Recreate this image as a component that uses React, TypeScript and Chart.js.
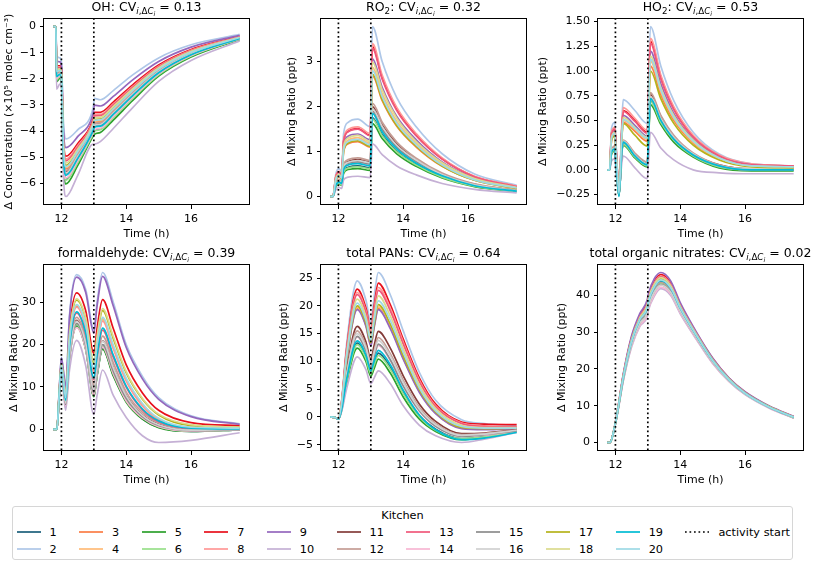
import React, { useEffect, useRef } from "react";
import { Chart, registerables } from "chart.js";

Chart.register(...registerables);

// ---------------- data ----------------
const KITCHENS = ["1","2","3","4","5","6","7","8","9","10","11","12","13","14","15","16","17","18","19","20"];
const KITCHEN_COLORS = [
  "#1b5f7a", "#aec7e8", "#fb7d45", "#ffbb78", "#2ca02c", "#98df8a", "#e8101c", "#ff9896", "#9467bd", "#c5b0d5",
  "#843c39", "#c49c94", "#f0587a", "#f7b6d2", "#8c8c8c", "#d0d0d0", "#b5b31a", "#dbdb8d", "#00bcd4", "#9edae5",
];
const ACTIVITY_START_TIMES = [12, 13];
const X_TICKS = [12, 14, 16];

// OH (x10^5 molec cm^-3)
const OH_TIME = [11.75, 11.83, 11.85, 11.95, 12.0, 12.06, 12.14, 12.5, 12.98, 13.02, 13.2, 13.6, 14.2, 15.0, 16.0, 17.5];
const OH_VALUES = [
  [0,0,-2.01,-1.9,-2.02,-5.0,-5.84,-5.18,-4.08,-3.98,-3.92,-3.47,-2.73,-1.83,-1.12,-0.48],
  [0,0,-1.1,-1.2,-1.35,-3.6,-4.3,-3.95,-3.1,-2.75,-2.8,-2.45,-1.85,-1.2,-0.7,-0.3],
  [0,0,-1.78,-1.72,-1.84,-4.64,-5.44,-4.86,-3.83,-3.66,-3.63,-3.2,-2.5,-1.67,-1.01,-0.43],
  [0,0,-1.75,-1.7,-1.83,-4.6,-5.4,-4.83,-3.8,-3.63,-3.6,-3.18,-2.48,-1.65,-1.0,-0.43],
  [0,0,-2.11,-1.98,-2.09,-5.16,-6.02,-5.32,-4.19,-4.12,-4.05,-3.58,-2.83,-1.9,-1.17,-0.5],
  [0,0,-2.04,-1.92,-2.03,-5.04,-5.88,-5.21,-4.11,-4.01,-3.95,-3.49,-2.75,-1.85,-1.13,-0.48],
  [0,0,-1.49,-1.5,-1.64,-4.2,-4.96,-4.48,-3.52,-3.28,-3.28,-2.89,-2.23,-1.47,-0.88,-0.38],
  [0,0,-1.56,-1.55,-1.68,-4.3,-5.07,-4.56,-3.59,-3.36,-3.36,-2.96,-2.29,-1.52,-0.91,-0.39],
  [0,0,-1.3,-1.35,-1.49,-3.9,-4.63,-4.21,-3.31,-3.01,-3.04,-2.67,-2.04,-1.34,-0.79,-0.34],
  [0,0,-2.4,-2.2,-2.3,-5.6,-6.5,-5.7,-4.5,-4.5,-4.4,-3.9,-3.1,-2.1,-1.3,-0.55],
  [0,0,-1.84,-1.77,-1.89,-4.74,-5.55,-4.95,-3.9,-3.75,-3.71,-3.28,-2.56,-1.71,-1.04,-0.44],
  [0,0,-1.82,-1.75,-1.87,-4.7,-5.51,-4.91,-3.87,-3.71,-3.68,-3.25,-2.54,-1.7,-1.03,-0.44],
  [0,0,-1.59,-1.58,-1.71,-4.36,-5.14,-4.62,-3.63,-3.42,-3.41,-3.0,-2.33,-1.54,-0.93,-0.4],
  [0,0,-1.98,-1.88,-2.0,-4.96,-5.8,-5.14,-4.05,-3.94,-3.89,-3.44,-2.7,-1.81,-1.11,-0.47],
  [0,0,-1.89,-1.81,-1.93,-4.82,-5.64,-5.02,-3.95,-3.82,-3.78,-3.33,-2.61,-1.75,-1.07,-0.45],
  [0,0,-1.87,-1.79,-1.91,-4.78,-5.6,-4.98,-3.93,-3.78,-3.74,-3.31,-2.59,-1.73,-1.05,-0.45],
  [0,0,-1.7,-1.66,-1.79,-4.52,-5.31,-4.76,-3.74,-3.56,-3.54,-3.12,-2.43,-1.61,-0.98,-0.42],
  [0,0,-1.65,-1.62,-1.75,-4.44,-5.22,-4.69,-3.69,-3.49,-3.47,-3.06,-2.38,-1.58,-0.95,-0.41],
  [0,0,-1.92,-1.83,-1.95,-4.86,-5.69,-5.05,-3.98,-3.85,-3.81,-3.36,-2.64,-1.77,-1.08,-0.46],
  [0,0,-1.72,-1.68,-1.81,-4.56,-5.36,-4.79,-3.77,-3.59,-3.57,-3.15,-2.45,-1.63,-0.99,-0.42],
];
const OH_TICKS = [-6, -5, -4, -3, -2, -1, 0];

// RO2 (ppt)
const RO2_TIME = [11.75, 11.83, 11.92, 12.02, 12.1, 12.16, 12.3, 12.6, 12.98, 13.05, 13.35, 13.8, 14.4, 15.2, 16.2, 17.5];
const RO2_VALUES = [
  [0,0,0.24,0.3,0.27,0.56,0.65,0.68,0.64,1.75,1.38,1.01,0.71,0.44,0.23,0.12],
  [0,0,0.5,0.62,0.55,1.4,1.65,1.72,1.55,3.78,3.0,2.2,1.55,0.95,0.5,0.25],
  [0,0,0.36,0.44,0.39,0.99,1.17,1.22,1.1,2.68,2.13,1.56,1.1,0.67,0.36,0.18],
  [0,0,0.38,0.47,0.42,1.06,1.25,1.31,1.18,2.87,2.28,1.67,1.18,0.72,0.38,0.19],
  [0,0,0.22,0.28,0.25,0.51,0.6,0.62,0.58,1.62,1.29,0.95,0.67,0.41,0.22,0.11],
  [0,0,0.23,0.29,0.26,0.54,0.63,0.66,0.62,1.72,1.35,0.99,0.7,0.43,0.23,0.11],
  [0,0,0.44,0.55,0.48,1.23,1.45,1.51,1.36,3.33,2.64,1.94,1.36,0.84,0.44,0.22],
  [0,0,0.45,0.56,0.5,1.26,1.49,1.55,1.4,3.4,2.7,1.98,1.4,0.86,0.45,0.23],
  [0,0,0.4,0.5,0.45,1.13,1.34,1.39,1.26,3.06,2.43,1.78,1.26,0.77,0.41,0.2],
  [0,0,0.15,0.2,0.18,0.37,0.43,0.45,0.42,1.17,0.93,0.68,0.48,0.29,0.16,0.08],
  [0,0,0.29,0.36,0.33,0.67,0.78,0.82,0.77,2.0,1.59,1.17,0.82,0.5,0.27,0.13],
  [0,0,0.3,0.38,0.34,0.7,0.82,0.86,0.8,2.07,1.65,1.21,0.85,0.52,0.28,0.14],
  [0,0,0.43,0.54,0.48,1.22,1.44,1.5,1.35,3.29,2.61,1.91,1.35,0.83,0.44,0.22],
  [0,0,0.26,0.33,0.3,0.6,0.71,0.74,0.7,1.86,1.47,1.08,0.76,0.47,0.25,0.12],
  [0,0,0.27,0.34,0.31,0.63,0.74,0.77,0.72,1.9,1.5,1.1,0.78,0.48,0.25,0.13],
  [0,0,0.28,0.35,0.32,0.65,0.76,0.8,0.75,1.95,1.56,1.14,0.81,0.49,0.26,0.13],
  [0,0,0.36,0.45,0.4,1.01,1.19,1.24,1.12,2.72,2.16,1.58,1.12,0.68,0.36,0.18],
  [0,0,0.4,0.49,0.43,1.11,1.3,1.36,1.22,2.99,2.37,1.74,1.22,0.75,0.4,0.2],
  [0,0,0.25,0.32,0.29,0.6,0.7,0.73,0.68,1.85,1.44,1.06,0.74,0.46,0.24,0.12],
  [0,0,0.37,0.46,0.41,1.04,1.22,1.27,1.15,2.8,2.22,1.63,1.15,0.7,0.37,0.19],
];
const RO2_TICKS = [0, 1, 2, 3];

// HO2 (ppt)
const HO2_TIME = [11.75, 11.82, 11.88, 11.98, 12.03, 12.11, 12.2, 12.24, 12.6, 12.98, 13.08, 13.4, 13.8, 14.4, 15.2, 16.2, 17.5];
const HO2_VALUES = [
  [0,0,0.17,0.2,-0.01,-0.26,0.19,0.27,0.13,0.04,0.7,0.49,0.3,0.14,0.03,0,0],
  [0,0,0.42,0.48,0.2,-0.22,0.5,0.71,0.6,0.47,1.45,1.05,0.7,0.38,0.16,0.06,0.04],
  [0,0,0.3,0.35,0.12,-0.25,0.34,0.48,0.39,0.29,1.05,0.76,0.5,0.27,0.11,0.04,0.03],
  [0,0,0.31,0.36,0.13,-0.24,0.35,0.5,0.41,0.31,1.1,0.79,0.52,0.28,0.11,0.04,0.03],
  [0,0,0.16,0.19,-0.02,-0.26,0.18,0.25,0.12,0.03,0.66,0.46,0.28,0.13,0.02,-0.01,-0.01],
  [0,0,0.17,0.2,-0.01,-0.26,0.19,0.26,0.13,0.04,0.69,0.48,0.3,0.14,0.03,0,0],
  [0,0,0.37,0.42,0.16,-0.23,0.43,0.6,0.5,0.38,1.3,0.94,0.62,0.34,0.14,0.05,0.04],
  [0,0,0.38,0.43,0.17,-0.23,0.45,0.63,0.52,0.4,1.33,0.96,0.64,0.35,0.15,0.06,0.04],
  [0,0,0.34,0.39,0.14,-0.24,0.39,0.55,0.45,0.34,1.2,0.87,0.57,0.31,0.13,0.05,0.03],
  [0,0,0.09,0.11,-0.06,-0.22,0.08,0.14,0.02,-0.09,0.38,0.22,0.1,0,-0.03,-0.04,-0.04],
  [0,0,0.2,0.23,0.02,-0.25,0.21,0.29,0.16,0.07,0.76,0.54,0.34,0.16,0.05,0.01,0.01],
  [0,0,0.2,0.24,0.02,-0.25,0.22,0.3,0.17,0.08,0.78,0.55,0.35,0.17,0.05,0.01,0.01],
  [0,0,0.36,0.41,0.16,-0.23,0.42,0.59,0.49,0.37,1.28,0.92,0.61,0.33,0.14,0.05,0.04],
  [0,0,0.18,0.21,0,-0.26,0.2,0.28,0.14,0.05,0.72,0.5,0.31,0.15,0.04,0,0],
  [0,0,0.19,0.22,0.01,-0.26,0.2,0.28,0.15,0.06,0.73,0.51,0.32,0.15,0.04,0,0],
  [0,0,0.19,0.22,0.01,-0.25,0.21,0.29,0.15,0.06,0.74,0.52,0.33,0.16,0.04,0.01,0.01],
  [0,0,0.3,0.34,0.11,-0.25,0.33,0.47,0.35,0.24,1.0,0.72,0.47,0.25,0.1,0.03,0.02],
  [0,0,0.33,0.38,0.14,-0.24,0.37,0.53,0.43,0.33,1.15,0.83,0.55,0.3,0.12,0.04,0.03],
  [0,0,0.18,0.21,0,-0.27,0.2,0.28,0.14,0.05,0.72,0.5,0.31,0.15,0.04,0,0],
  [0,0,0.32,0.37,0.13,-0.24,0.36,0.51,0.42,0.32,1.12,0.81,0.53,0.29,0.12,0.04,0.03],
];
const HO2_TICKS = [-0.25, 0, 0.25, 0.5, 0.75, 1.0, 1.25, 1.5];

// formaldehyde (ppt)
const HCHO_TIME = [11.75, 11.86, 11.93, 12.0, 12.06, 12.13, 12.25, 12.47, 12.75, 13.0, 13.1, 13.27, 13.6, 14.0, 14.5, 15.0, 16.0, 17.5];
const HCHO_VALUES = [
  [0,0,7.4,13.9,10.1,5.7,16.9,24.4,19,7.9,12.8,19.1,12.8,6.6,2.5,0.5,-0.5,-0.1],
  [0,0,9,17,14,10,27,36.5,33,23.5,30,37,30,20,12.5,7.5,3.2,1.3],
  [0,0,8,15.1,11.6,7.4,20.8,29.1,24.4,13.9,19.4,26,19.4,11.7,5.8,2.4,0.4,0.3],
  [0,0,8,15.1,11.6,7.4,20.7,29.3,24.3,13.8,19.3,25.9,19.3,11.6,5.7,2.3,0.4,0.3],
  [0,0,7.4,13.8,10,5.6,16.7,24.2,18.8,7.7,12.6,18.9,12.6,6.4,2.4,0.4,-0.5,-0.1],
  [0,0,7.5,14,10.2,5.8,17.1,24.7,19.3,8.3,13.3,19.5,13.3,6.9,2.8,0.7,-0.4,-0.1],
  [0,0,8.4,15.9,12.6,8.5,23.4,32.2,28,17.9,23.8,30.6,23.8,15.2,8.6,4.5,1.6,0.9],
  [0,0,8,15,11.5,7.3,20.5,28.8,24,13.5,19,25.5,19,11.4,5.5,2.2,0.3,0.3],
  [0,0,8.9,16.8,13.8,9.8,26.5,35.9,32.3,22.7,29.1,36.1,29.1,19.3,11.9,7.1,3.0,1.2],
  [0,0,7,13,9,4.5,14,21,15,3.5,8,14,8,2.8,-1.5,-3.1,-2.6,-0.8],
  [0,0,7.6,14.2,10.5,6.2,17.9,25.7,20.4,9.5,14.6,20.9,14.6,8,3.4,1.2,-0.1,0],
  [0,0,7.7,14.4,10.8,6.4,18.6,26.4,21.3,10.5,15.7,22,15.7,8.8,4,1.6,0.1,0.1],
  [0,0,7.8,14.6,11.1,6.8,19.3,27.4,22.4,11.7,17,23.4,17,9.9,4.6,1.8,0.2,0.1],
  [0,0,7.4,13.9,10.1,5.6,16.8,24,18.9,8,13,19.4,13.1,6.7,2.7,0.6,-0.4,-0.1],
  [0,0,7.5,14,10.3,5.9,17.4,25,19.7,8.7,13.7,20,13.7,7.3,3,0.9,-0.3,-0.1],
  [0,0,7.6,14.2,10.5,6.2,17.8,25.5,20.3,9.4,14.5,20.8,14.5,7.9,3.3,1.1,-0.2,0],
  [0,0,8.2,15.4,12,7.9,21.9,30.5,26,15.7,21.4,28,21.4,13.3,7.1,3.4,0.9,0.5],
  [0,0,8.3,15.5,12.2,8,22.2,30.8,26.3,16.1,21.9,28.5,21.9,13.6,7.3,3.6,1.1,0.5],
  [0,0,7.9,14.7,11.2,6.9,19.6,27.7,22.7,12.1,17.5,23.9,17.5,10.2,4.8,2.0,0.3,0.1],
  [0,0,8.1,15.2,11.7,7.5,21,29.4,24.7,14.3,19.9,26.4,19.9,12.1,6.1,2.6,0.5,0.3],
];
const HCHO_TICKS = [0, 10, 20, 30];

// total PANs (ppt)
const PAN_TIME = [11.75, 11.9, 12.0, 12.1, 12.25, 12.58, 12.85, 13.0, 13.1, 13.23, 13.6, 14.0, 14.5, 15.0, 15.8, 16.5, 17.5];
const PAN_VALUES = [
  [0,-0.1,-0.4,1.4,6.4,13.3,10.8,8,9.6,11.5,8.9,4.4,0.2,-2.2,-3.9,-3.5,-2.6],
  [0,-0.1,-0.3,3,13,24.5,21,17,21.5,26,22,15.5,8,3,-0.5,-1.2,-1.6],
  [0,-0.1,-0.3,2.3,10.1,19.6,16.5,13,16.3,19.6,16.2,10.6,4.6,0.7,-2,-2.2,-2],
  [0,-0.1,-0.3,2.3,10.2,19.7,16.6,13.2,16.4,19.8,16.4,10.8,4.7,0.8,-1.9,-2.2,-2],
  [0,-0.1,-0.4,1.2,6,12.4,10,7.3,8.7,10.4,7.9,3.6,-0.4,-2.6,-4.1,-3.7,-2.7],
  [0,-0.1,-0.4,1.3,6.3,13,10.5,7.8,9.3,11.1,8.6,4.2,0,-2.4,-3.9,-3.6,-2.6],
  [0,-0.1,-0.3,2.8,12.1,23,19.6,15.8,19.9,24.1,20.2,14,7,2.3,-0.9,-1.3,-1.4],
  [0,-0.1,-0.3,2.7,11.8,22.4,19.1,15.4,19.3,23.3,19.6,13.5,6.6,2.0,-1.1,-1.6,-1.8],
  [0,-0.1,-0.3,2.2,10,19.3,16.3,12.8,16,19.3,15.9,10.4,4.4,0.6,-2.1,-2.3,-2.1],
  [0,-0.1,-0.4,1,5,10.8,8.5,6,7,8.3,6,2,-1.5,-3.4,-4.6,-4.0,-2.8],
  [0,-0.1,-0.4,1.8,8.2,16.3,13.5,10.4,12.8,15.4,12.4,7.4,2.3,-0.8,-3,-2.9,-2.3],
  [0,-0.1,-0.4,1.7,7.7,15.5,12.8,9.7,11.9,14.3,11.4,6.6,1.7,-1.2,-3.2,-3.0,-2.4],
  [0,-0.1,-0.3,2.6,11.6,22,18.8,15,18.9,22.8,19.1,13.1,6.3,1.8,-1.2,-1.7,-1.8],
  [0,-0.1,-0.4,1.5,7.1,14.4,11.8,8.9,10.8,12.9,10.2,5.5,1,-1.7,-3.5,-3.3,-2.5],
  [0,-0.1,-0.4,1.5,7.2,14.5,11.9,9,10.9,13.1,10.3,5.6,1.1,-1.7,-3.5,-3.2,-2.5],
  [0,-0.1,-0.4,1.6,7.5,15,12.4,9.4,11.5,13.8,11,6.2,1.4,-1.4,-3.3,-3.1,-2.4],
  [0,-0.1,-0.3,2.3,10.4,20,16.9,13.4,16.7,20.2,16.7,11,4.9,0.9,-1.9,-2.1,-2],
  [0,-0.1,-0.3,2.5,11.1,21.2,18,14.4,18,21.8,18.2,12.3,5.7,1.5,-1.5,-1.9,-1.9],
  [0,-0.1,-0.4,1.4,6.7,13.7,11.1,8.3,10,12,9.4,4.8,0.3,-2.3,-4.1,-3.8,-2.8],
  [0,-0.1,-0.3,2.4,10.7,20.5,17.4,13.8,17.3,20.9,17.4,11.6,5.2,1.1,-1.7,-2,-2],
];
const PAN_TICKS = [-5, 0, 5, 10, 15, 20, 25];

// total organic nitrates (ppt)
const NIT_TIME = [11.75, 11.83, 12.0, 12.25, 12.5, 12.75, 12.98, 13.02, 13.2, 13.4, 13.7, 14.0, 14.5, 15.0, 15.5, 16.0, 16.75, 17.5];
const NIT_VALUES = [
  [0,0,5.2,17.9,27.3,33,36.1,37.9,41.8,43.7,41.7,36.3,28.9,22.1,17,13.3,9.6,6.8],
  [0,0,5.3,18.2,27.8,33.6,37,38.7,42.7,44.5,42.4,36.8,29.2,22.4,17.2,13.5,9.7,6.9],
  [0,0,5.3,18.1,27.7,33.5,36.7,38.5,42.4,44.3,42.2,36.7,29.1,22.3,17.2,13.4,9.6,6.9],
  [0,0,5.3,18.1,27.6,33.4,36.6,38.4,42.3,44.2,42.1,36.6,29.1,22.3,17.1,13.4,9.6,6.9],
  [0,0,5.2,17.7,27,32.7,35.7,37.5,41.4,43.3,41.3,36,28.7,22,16.9,13.3,9.5,6.8],
  [0,0,5.2,17.6,26.9,32.6,35.6,37.4,41.3,43.2,41.2,35.9,28.7,22,16.9,13.2,9.5,6.8],
  [0,0,5.4,18.7,28.6,34.5,38.1,39.9,43.8,45.6,43.4,37.6,29.7,22.8,17.5,13.7,9.8,7.0],
  [0,0,5.4,18.5,28.3,34.2,37.7,39.5,43.4,45.2,43.1,37.3,29.5,22.7,17.4,13.6,9.8,7.0],
  [0,0,5.5,19,29,35,38.7,40.5,44.5,46.2,44,38,30,23,17.6,13.8,9.9,7.1],
  [0,0,5,17,26,31.5,34.2,36,39.8,41.8,40,35,28,21.5,16.6,13.0,9.3,6.6],
  [0,0,5.2,17.9,27.3,33,36.2,38,41.9,43.8,41.8,36.3,28.9,22.1,17,13.3,9.6,6.8],
  [0,0,5.2,17.8,27.2,32.9,36,37.8,41.7,43.6,41.6,36.2,28.8,22.1,17,13.3,9.6,6.8],
  [0,0,5.4,18.5,28.2,34.1,37.5,39.3,43.2,45,42.9,37.2,29.5,22.6,17.3,13.6,9.7,7.0],
  [0,0,5,17.2,26.3,31.8,34.6,36.4,40.2,42.2,40.4,35.3,28.2,21.6,16.7,13.1,9.4,6.65],
  [0,0,5.1,17.5,26.8,32.4,35.3,37.1,41,42.9,41,35.8,28.5,21.9,16.9,13.2,9.5,6.7],
  [0,0,5.1,17.4,26.7,32.3,35.2,37,40.9,42.8,40.9,35.7,28.5,21.9,16.8,13.2,9.5,6.7],
  [0,0,5.3,18.2,27.8,33.6,36.9,38.7,42.7,44.5,42.4,36.8,29.2,22.4,17.2,13.5,9.7,6.9],
  [0,0,5.3,18.4,28,33.9,37.3,39.1,43,44.8,42.7,37,29.4,22.5,17.3,13.5,9.7,6.9],
  [0,0,5.25,18,27.5,33.3,36.5,38.3,42.2,44,42,36.5,29,22.3,17.1,13.4,9.6,6.85],
  [0,0,5.3,18.1,27.6,33.4,36.6,38.4,42.3,44.2,42.1,36.6,29.1,22.3,17.1,13.4,9.6,6.9],
];
const NIT_TICKS = [0, 10, 20, 30, 40];

// title pieces: [text, size factor, italic, subscript level]
type Part = [string, number, boolean, number];
const cvParts = (cv: string): Part[] => [
  ["CV", 1, false, 0], ["i", 0.7, true, 1], [",", 0.7, false, 1], ["Δ", 0.7, false, 1],
  ["C", 0.7, true, 1], ["i", 0.5, true, 2], [" = " + cv, 1, false, 0],
];
const MIX_LABEL = "Δ Mixing Ratio (ppt)";

const FONT = "DejaVu Sans";
const TICK_SIZE = 11;
const TITLE_SIZE = 12.5;

// ---------------- plugins ----------------
const framePlugin = {
  id: "frame",
  afterDraw(chart: any) {
    const { ctx, chartArea: a } = chart;
    ctx.save();
    ctx.strokeStyle = "#000";
    ctx.lineWidth = 1;
    ctx.strokeRect(Math.round(a.left) - 0.5, Math.round(a.top) + 0.5, Math.round(a.right - a.left) + 1, Math.round(a.bottom - a.top) - 1);
    ctx.restore();
  },
};

const activityPlugin = {
  id: "activity",
  afterDatasetsDraw(chart: any) {
    const { ctx, chartArea: a, scales } = chart;
    ctx.save();
    ctx.strokeStyle = "#000";
    ctx.lineWidth = 1.7;
    ctx.setLineDash([1.7, 2.8]);
    for (const t of ACTIVITY_START_TIMES) {
      const x = scales.x.getPixelForValue(t);
      ctx.beginPath();
      ctx.moveTo(x, a.top);
      ctx.lineTo(x, a.bottom);
      ctx.stroke();
    }
    ctx.restore();
  },
};

const mathTitlePlugin = {
  id: "mathTitle",
  afterDraw(chart: any, _args: any, opts: any) {
    const parts: Part[] = opts.parts;
    if (!parts) return;
    const { ctx, chartArea: a } = chart;
    const base = TITLE_SIZE;
    const shifts = [0, 0.24, 0.4];
    const fontFor = (p: Part) => `${p[2] ? "italic " : ""}${base * p[1]}px "${FONT}"`;
    ctx.save();
    ctx.fillStyle = "#000";
    ctx.textAlign = "left";
    ctx.textBaseline = "alphabetic";
    let total = 0;
    for (const p of parts) { ctx.font = fontFor(p); total += ctx.measureText(p[0]).width; }
    let x = (a.left + a.right) / 2 - total / 2;
    const y = a.top - 7;
    for (const p of parts) {
      ctx.font = fontFor(p);
      ctx.fillText(p[0], x, y + shifts[p[3]] * base);
      x += ctx.measureText(p[0]).width;
    }
    ctx.restore();
  },
};

const fmt = (v: number, dec: number) => {
  const s = Math.abs(v).toFixed(dec);
  return v < 0 ? "−" + s : s;
};

// ---------------- panels ----------------
interface PanelCfg {
  time: number[];
  values: number[][];
  ticks: number[];
  decimals: number;
  title: Part[];
  yLabel: string;
  box: { L: number; T: number; R: number; B: number };
  labelX: number;
}

const PANELS: PanelCfg[] = [
  { time: OH_TIME, values: OH_VALUES, ticks: OH_TICKS, decimals: 0, title: [["OH: ", 1, false, 0], ...cvParts("0.13")],
    yLabel: "Δ Concentration (×10⁵ molec cm⁻³)", box: { L: 44, T: 18, R: 249, B: 205 }, labelX: 10 },
  { time: RO2_TIME, values: RO2_VALUES, ticks: RO2_TICKS, decimals: 0,
    title: [["RO", 1, false, 0], ["2", 0.7, false, 1], [": ", 1, false, 0], ...cvParts("0.32")],
    yLabel: MIX_LABEL, box: { L: 321, T: 18, R: 526, B: 205 }, labelX: 293 },
  { time: HO2_TIME, values: HO2_VALUES, ticks: HO2_TICKS, decimals: 2,
    title: [["HO", 1, false, 0], ["2", 0.7, false, 1], [": ", 1, false, 0], ...cvParts("0.53")],
    yLabel: MIX_LABEL, box: { L: 598, T: 18, R: 803, B: 205 }, labelX: 544 },
  { time: HCHO_TIME, values: HCHO_VALUES, ticks: HCHO_TICKS, decimals: 0,
    title: [["formaldehyde: ", 1, false, 0], ...cvParts("0.39")],
    yLabel: MIX_LABEL, box: { L: 44, T: 264, R: 249, B: 451 }, labelX: 15 },
  { time: PAN_TIME, values: PAN_VALUES, ticks: PAN_TICKS, decimals: 0,
    title: [["total PANs: ", 1, false, 0], ...cvParts("0.64")],
    yLabel: MIX_LABEL, box: { L: 321, T: 264, R: 526, B: 451 }, labelX: 285 },
  { time: NIT_TIME, values: NIT_VALUES, ticks: NIT_TICKS, decimals: 0,
    title: [["total organic nitrates: ", 1, false, 0], ...cvParts("0.02")],
    yLabel: MIX_LABEL, box: { L: 598, T: 264, R: 803, B: 451 }, labelX: 563 },
];

const PAD_TOP = 18;
const PAD_RIGHT = 10;
const X_AXIS_H = 40;

function Panel({ cfg }: { cfg: PanelCfg }) {
  const ref = useRef<HTMLCanvasElement>(null);
  const left = Math.round(cfg.labelX - 6.6);
  const top = cfg.box.T - PAD_TOP;
  const width = cfg.box.R - left + PAD_RIGHT;
  const height = cfg.box.B - top + X_AXIS_H;
  const yWidth = cfg.box.L - left;

  useEffect(() => {
    if (!ref.current) return;
    const tMin = Math.min(...cfg.time);
    const tMax = Math.max(...cfg.time);
    const all = cfg.values.flat();
    const vMin = Math.min(...all);
    const vMax = Math.max(...all);
    const xPad = (tMax - tMin) * 0.05;
    const yPad = (vMax - vMin) * 0.05;

    const datasets = cfg.values.map((row, k) => ({
      label: KITCHENS[k],
      data: row.map((v, i) => ({ x: cfg.time[i], y: v })),
      borderColor: KITCHEN_COLORS[k],
      backgroundColor: KITCHEN_COLORS[k],
      borderWidth: 1.7,
      pointRadius: 0,
      fill: false,
      cubicInterpolationMode: "monotone" as const,
      order: KITCHENS.length - k,
    }));

    const chart = new Chart(ref.current, {
      type: "line",
      data: { datasets },
      plugins: [activityPlugin, framePlugin, mathTitlePlugin],
      options: {
        animation: false,
        responsive: false,
        devicePixelRatio: 1,
        events: [],
        layout: { padding: { top: PAD_TOP, right: PAD_RIGHT, left: 0, bottom: 0 } },
        plugins: {
          legend: { display: false },
          tooltip: { enabled: false },
          title: { display: false },
          mathTitle: { parts: cfg.title },
        } as any,
        scales: {
          x: {
            type: "linear",
            min: tMin - xPad,
            max: tMax + xPad,
            afterBuildTicks: (s: any) => { s.ticks = X_TICKS.map((v) => ({ value: v })); },
            afterFit: (s: any) => { s.height = X_AXIS_H; },
            ticks: { autoSkip: false, maxRotation: 0, padding: 4, color: "#000", font: { family: FONT, size: TICK_SIZE }, callback: (v: any) => fmt(Number(v), 0) },
            grid: { display: true, drawOnChartArea: false, drawTicks: true, tickLength: 4, color: "#000", lineWidth: 1 },
            border: { display: false },
            title: { display: true, text: "Time (h)", color: "#000", font: { family: FONT, size: TICK_SIZE }, padding: { top: 0, bottom: 4 } },
          },
          y: {
            type: "linear",
            min: vMin - yPad,
            max: vMax + yPad,
            afterBuildTicks: (s: any) => { s.ticks = cfg.ticks.map((v) => ({ value: v })); },
            afterFit: (s: any) => { s.width = yWidth; },
            ticks: { autoSkip: false, padding: 4, color: "#000", font: { family: FONT, size: TICK_SIZE }, callback: (v: any) => fmt(Number(v), cfg.decimals) },
            grid: { display: true, drawOnChartArea: false, drawTicks: true, tickLength: 4, color: "#000", lineWidth: 1 },
            border: { display: false },
            title: { display: true, text: cfg.yLabel, color: "#000", font: { family: FONT, size: TICK_SIZE }, padding: { top: 0, bottom: 0 } },
          },
        },
      },
    });
    return () => chart.destroy();
  }, []);

  return (
    <canvas
      ref={ref}
      width={width}
      height={height}
      style={{ position: "absolute", left, top, width, height }}
    />
  );
}

function Legend() {
  const cols: number[][] = [];
  for (let i = 0; i < KITCHENS.length; i += 2) cols.push([i, i + 1]);
  const rowH = 16.7;
  const handle = (color: string, dotted = false) => (
    <svg width={24} height={4} style={{ display: "block", flex: "none" }}>
      <line x1={0} y1={2} x2={24} y2={2} stroke={color} strokeWidth={1.7}
        strokeDasharray={dotted ? "1.7 2.8" : undefined} />
    </svg>
  );
  return (
    <div style={{
      position: "absolute", left: 12, top: 506, width: 781, height: 54, boxSizing: "border-box",
      border: "1px solid #d6d6d6", borderRadius: 3, background: "#fff",
      fontFamily: FONT, fontSize: 11.3, color: "#000",
    }}>
      <div style={{ position: "absolute", top: 0, left: 0, width: "100%", textAlign: "center", lineHeight: "18px" }}>Kitchen</div>
      <div style={{ position: "absolute", top: 17, left: 3.5, display: "flex", columnGap: 22.4 }}>
        {cols.map((c) => (
          <div key={c[0]} style={{ display: "flex", flexDirection: "column" }}>
            {c.map((k) => (
              <div key={k} style={{ height: rowH, display: "flex", alignItems: "center", whiteSpace: "nowrap" }}>
                {handle(KITCHEN_COLORS[k])}
                <span style={{ marginLeft: 9 }}>{KITCHENS[k]}</span>
              </div>
            ))}
          </div>
        ))}
        <div style={{ display: "flex", flexDirection: "column" }}>
          <div style={{ height: rowH, display: "flex", alignItems: "center", whiteSpace: "nowrap" }}>
            {handle("#000", true)}
            <span style={{ marginLeft: 9 }}>activity start</span>
          </div>
        </div>
      </div>
    </div>
  );
}

export default function App() {
  return (
    <div style={{ position: "absolute", left: 0, top: 0, width: 813, height: 562, background: "#fff", overflow: "hidden" }}>
      {PANELS.map((p, i) => <Panel key={i} cfg={p} />)}
      <Legend />
    </div>
  );
}
